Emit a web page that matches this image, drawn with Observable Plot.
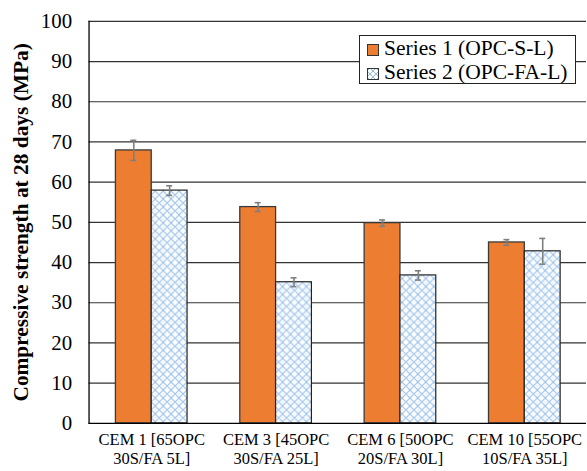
<!DOCTYPE html>
<html>
<head>
<meta charset="utf-8">
<script src="https://cdn.jsdelivr.net/npm/d3@7"></script>
<script src="https://cdn.jsdelivr.net/npm/@observablehq/plot@0.6"></script>
<style>
  html, body { margin: 0; padding: 0; overflow: hidden; background: #fff; }
  #wrap { position: relative; width: 587px; height: 471px; overflow: hidden; font-family: "Liberation Serif", "DejaVu Serif", serif; }
  #chart svg, #chart svg text { font-family: "Liberation Serif", "DejaVu Serif", serif !important; }
  #legend {
    position: absolute; left: 359px; top: 35px; width: 215px; height: 47px;
    background: #fff; border: 1px solid #222; font-size: 21.5px; color: #000;
    box-sizing: content-box;
  }
  #legend .row { position: absolute; left: 7px; height: 24px; line-height: 24px; white-space: nowrap; }
  #legend svg { vertical-align: -1px; margin-right: 5px; }
</style>
</head>
<body>
<div id="wrap">
  <div id="chart"></div>
  <div id="legend"></div>
</div>
<script>
// Mix designs on the x axis (two-line tick labels)
const mixes = ["CEM 1", "CEM 3", "CEM 6", "CEM 10"];
const mixLine1 = ["CEM 1 [65OPC", "CEM 3 [45OPC", "CEM 6 [50OPC", "CEM 10 [55OPC"];
const mixLine2 = ["30S/FA 5L]", "30S/FA 25L]", "20S/FA 30L]", "10S/FA 35L]"];

// Mean 28-day compressive strength (MPa) and error (±) for each series
const seriesNames = ["Series 1 (OPC-S-L)", "Series 2 (OPC-FA-L)"];
const series1 = [67.9, 53.8, 49.8, 45.0];
const error1 = [2.5, 1.1, 0.8, 0.7];
const series2 = [57.9, 35.1, 36.8, 42.8];
const error2 = [1.2, 1.1, 1.15, 3.2];

const yTicks = [0, 10, 20, 30, 40, 50, 60, 70, 80, 90, 100];

const rows1 = mixes.map((m, i) => ({mix: m, v: series1[i], lo: series1[i] - error1[i], hi: series1[i] + error1[i]}));
const rows2 = mixes.map((m, i) => ({mix: m, v: series2[i], lo: series2[i] - error2[i], hi: series2[i] + error2[i]}));

const orange = "#ED7D31";
const errColor = "#7F7F7F";
const half = 36;   // each bar takes half of the 72px band
const serif = "Liberation Serif, DejaVu Serif, serif";

const chart = Plot.plot({
  width: 590,
  height: 471,
  marginLeft: 89,
  marginRight: 1,
  marginTop: 21,
  marginBottom: 46,
  style: {fontFamily: serif, color: "#000", background: "#fff"},
  x: {domain: mixes, paddingInner: 0.424, paddingOuter: 0.212, axis: null},
  y: {domain: [0, 100], axis: null},
  marks: [
    Plot.gridY(yTicks.slice(1), {stroke: "#333", strokeOpacity: 1, strokeWidth: 1.2}),
    Plot.barY(rows1, {x: "mix", y: "v", fill: orange, stroke: "#3a3a3a", strokeWidth: 1.3, insetRight: half}),
    Plot.barY(rows2, {x: "mix", y: "v", fill: "url(#lattice)", stroke: "#222", strokeWidth: 1.2, insetLeft: half}),
    Plot.ruleX(rows1, {x: "mix", y1: "lo", y2: "hi", dx: -half / 2, stroke: errColor, strokeWidth: 1.6}),
    Plot.ruleX(rows2, {x: "mix", y1: "lo", y2: "hi", dx: half / 2, stroke: errColor, strokeWidth: 1.6}),
    Plot.tickY(rows1, {x: "mix", y: "lo", insetLeft: 15, insetRight: 51, stroke: errColor, strokeWidth: 1.6}),
    Plot.tickY(rows1, {x: "mix", y: "hi", insetLeft: 15, insetRight: 51, stroke: errColor, strokeWidth: 1.6}),
    Plot.tickY(rows2, {x: "mix", y: "lo", insetLeft: 51, insetRight: 15, stroke: errColor, strokeWidth: 1.6}),
    Plot.tickY(rows2, {x: "mix", y: "hi", insetLeft: 51, insetRight: 15, stroke: errColor, strokeWidth: 1.6}),
    Plot.ruleY([0], {stroke: "#000", strokeWidth: 1.3}),
    Plot.frame({anchor: "left", stroke: "#000", strokeWidth: 1.3}),
    Plot.axisY({ticks: yTicks, tickSize: 0, tickPadding: 17, fontSize: 21, fontFamily: serif, label: null}),
    Plot.axisY({ticks: [], label: "Compressive strength at 28 days (MPa)", labelAnchor: "center", labelArrow: "none",
      labelOffset: 77, fontSize: 21.5, fontWeight: "bold", fontFamily: serif}),
    Plot.axisX({tickSize: 0, tickPadding: 8, fontSize: 16.6, lineHeight: 1.16, fontFamily: serif, label: null,
      tickFormat: (d) => { const i = mixes.indexOf(d); return mixLine1[i] + "\n" + mixLine2[i]; }})
  ]
});

// Light-blue diamond lattice fill used for Series 2
const defs = d3.select(chart).insert("defs", ":first-child");
const pat = defs.append("pattern").attr("id", "lattice").attr("patternUnits", "userSpaceOnUse")
  .attr("width", 8).attr("height", 8);
pat.append("rect").attr("width", 8).attr("height", 8).attr("fill", "#fff");
pat.append("path").attr("d", "M0,4 L4,0 L8,4 L4,8 Z").attr("fill", "none").attr("stroke", "#9DC3EC").attr("stroke-width", 1.1);
pat.append("rect").attr("x", 3.4).attr("y", 3.4).attr("width", 1.2).attr("height", 1.2).attr("fill", "#C9DDF3");

document.getElementById("chart").append(chart);

// Legend
const legend = document.getElementById("legend");
const swatches = [
  `<svg width="12" height="12"><rect x="0.5" y="0.5" width="11" height="11" fill="${orange}" stroke="#333"/></svg>`,
  `<svg width="12" height="12"><defs><pattern id="lat2" patternUnits="userSpaceOnUse" width="6" height="6"><rect width="6" height="6" fill="#fff"/><path d="M0,3 L3,0 L6,3 L3,6 Z" fill="none" stroke="#8CB8E6" stroke-width="1"/></pattern></defs><rect x="0.5" y="0.5" width="11" height="11" fill="url(#lat2)" stroke="#333"/></svg>`
];
seriesNames.forEach((name, i) => {
  const row = document.createElement("div");
  row.className = "row";
  row.style.top = (i * 24) + "px";
  row.innerHTML = swatches[i] + name;
  legend.append(row);
});
</script>
</body>
</html>
